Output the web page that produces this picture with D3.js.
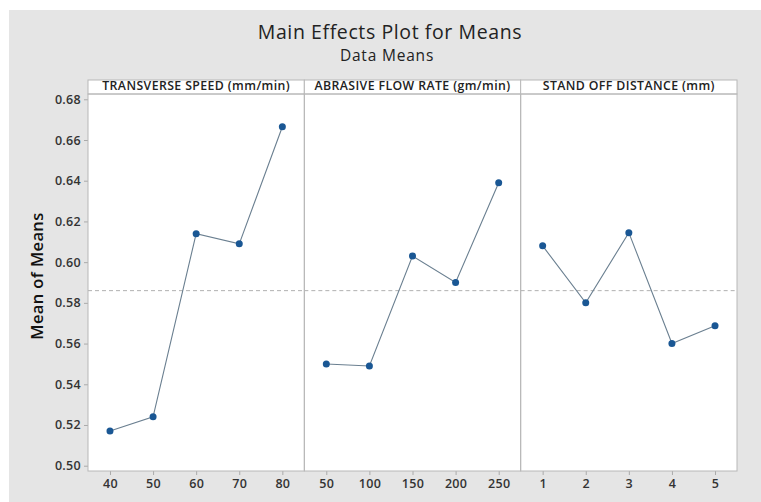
<!DOCTYPE html>
<html><head><meta charset="utf-8">
<script src="https://cdn.jsdelivr.net/npm/d3@7"></script>
<style>
body{margin:0;background:#fff;}
text{font-family:"Open Sans",sans-serif;}
</style></head>
<body>
<svg id="c" width="761" height="502"></svg>
<script>
const factors = ["TRANSVERSE SPEED (mm/min)", "ABRASIVE FLOW RATE (gm/min)", "STAND OFF DISTANCE (mm)"];
const levelsSpeed = ["40", "50", "60", "70", "80"];
const levelsFlow = ["50", "100", "150", "200", "250"];
const levelsSod = ["1", "2", "3", "4", "5"];
const meansSpeed = [0.517, 0.524, 0.614, 0.609, 0.6665];
const meansFlow = [0.550, 0.549, 0.603, 0.590, 0.639];
const meansSod = [0.608, 0.580, 0.6145, 0.560, 0.5687];
const grandMean = 0.586;
const yTicks = [0.50, 0.52, 0.54, 0.56, 0.58, 0.60, 0.62, 0.64, 0.66, 0.68];

const panels = [
  {name: factors[0], levels: levelsSpeed, values: meansSpeed},
  {name: factors[1], levels: levelsFlow, values: meansFlow},
  {name: factors[2], levels: levelsSod, values: meansSod}
];

const svg = d3.select("#c");
svg.append("rect").attr("x", 9).attr("y", 10).attr("width", 752).attr("height", 492).attr("fill", "#e5e5e5");

const pL = 88, pR = 737, stripTop = 80, pTop = 94, pBottom = 471;
const pw = (pR - pL) / 3;
const y = d3.scaleLinear().domain([0.4974, 0.6826]).range([pBottom, pTop]);

svg.append("text").attr("x", 390).attr("y", 39).attr("text-anchor", "middle")
  .attr("font-size", 19.5).attr("letter-spacing", 0.6).attr("fill", "#222").text("Main Effects Plot for Means");
svg.append("text").attr("x", 387).attr("y", 61).attr("text-anchor", "middle")
  .attr("font-size", 15.5).attr("letter-spacing", 0.8).attr("fill", "#222").text("Data Means");

// y axis
const yAxis = d3.axisLeft(y).tickValues(yTicks).tickFormat(d3.format(".2f")).tickSize(4).tickPadding(3);
const ga = svg.append("g").attr("transform", `translate(${pL},0)`).call(yAxis);
ga.select(".domain").remove();
ga.selectAll("line").attr("stroke", "#aaa");
ga.selectAll("text").attr("font-size", 12.5).attr("letter-spacing", 0.3).attr("font-weight", 600).attr("fill", "#333")
  .attr("font-family", "Open Sans");

svg.append("text").attr("transform", `translate(43,276) rotate(-90)`).attr("text-anchor", "middle")
  .attr("font-size", 16.5).attr("letter-spacing", 0.4).attr("font-weight", 600).attr("fill", "#111").text("Mean of Means");

// plot background
svg.append("rect").attr("x", pL).attr("y", pTop).attr("width", pR - pL).attr("height", pBottom - pTop).attr("fill", "#fff");

panels.forEach((p, i) => {
  const x0 = pL + i * pw, x1 = x0 + pw;
  const x = d3.scalePoint().domain(p.levels).range([x0, x1]).padding(0.51);
  // strip
  svg.append("rect").attr("x", x0).attr("y", stripTop).attr("width", pw).attr("height", pTop - stripTop)
    .attr("fill", "#fff").attr("stroke", "#b8b8b8").attr("stroke-width", 1);
  svg.append("text").attr("x", (x0 + x1) / 2).attr("y", pTop - 4).attr("text-anchor", "middle")
    .attr("font-size", 12.3).attr("letter-spacing", 0.4).attr("font-weight", 600).attr("fill", "#222").text(p.name);
  // x axis
  const xAxis = d3.axisBottom(x).tickSize(4).tickPadding(4);
  const gx = svg.append("g").attr("transform", `translate(0,${pBottom})`).call(xAxis);
  gx.select(".domain").remove();
  gx.selectAll("line").attr("stroke", "#aaa");
  gx.selectAll("text").attr("font-size", 12.5).attr("letter-spacing", 0.3).attr("font-weight", 600).attr("fill", "#333")
    .attr("font-family", "Open Sans");
  // grand mean
  svg.append("line").attr("x1", x0).attr("x2", x1).attr("y1", y(grandMean)).attr("y2", y(grandMean))
    .attr("stroke", "#b0b0b0").attr("stroke-dasharray", "4,3").attr("stroke-width", 1);
  // line
  const line = d3.line().x((d, j) => x(p.levels[j])).y(d => y(d));
  svg.append("path").datum(p.values).attr("d", line).attr("fill", "none")
    .attr("stroke", "#6a7f90").attr("stroke-width", 1.1);
  svg.selectAll(null).data(p.values).enter().append("circle")
    .attr("cx", (d, j) => x(p.levels[j])).attr("cy", d => y(d)).attr("r", 3.5).attr("fill", "#1a5794");
  // panel frame
  svg.append("rect").attr("x", x0).attr("y", pTop).attr("width", pw).attr("height", pBottom - pTop)
    .attr("fill", "none").attr("stroke", "#b8b8b8").attr("stroke-width", 1);
});
</script>
</body></html>
